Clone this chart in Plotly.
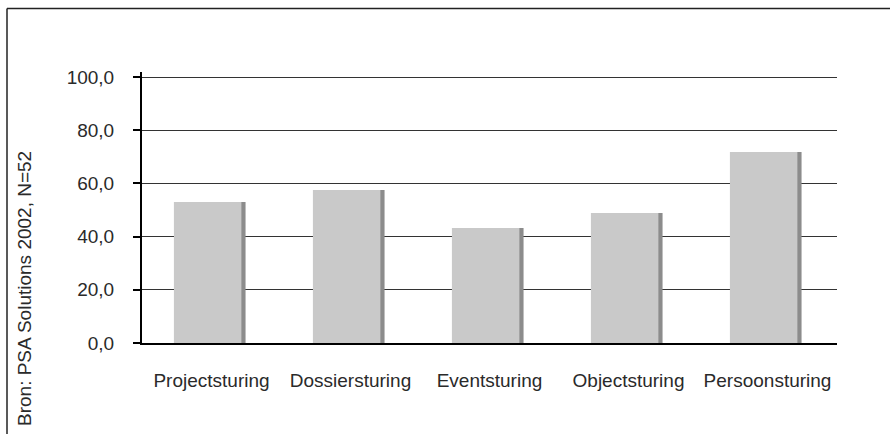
import plotly.graph_objects as go

categories = ["Projectsturing", "Dossiersturing", "Eventsturing", "Objectsturing", "Persoonsturing"]
values = [53.0, 57.5, 43.2, 48.9, 71.8]
y_ticks = [0, 20, 40, 60, 80, 100]
source_text = "Bron: PSA Solutions 2002, N=52"

FONT = "Liberation Sans"
FS = 19
TXT = "#2a2a2a"
W, H = 890, 434
ML, MR, MT, MB = 142, 53, 72, 91

fig = go.Figure()
# shadow (darker right edge)
fig.add_trace(go.Bar(x=categories, y=values, width=0.515, offset=-0.27,
                     marker=dict(color="#8c8c8c", line=dict(width=0)),
                     hoverinfo="skip", showlegend=False))
# face
fig.add_trace(go.Bar(x=categories, y=values, width=0.485, offset=-0.27,
                     marker=dict(color="#c9c9c9", line=dict(width=0)),
                     showlegend=False))

fig.update_layout(
    width=W, height=H,
    margin=dict(l=ML, r=MR, t=MT, b=MB),
    paper_bgcolor="white", plot_bgcolor="white",
    barmode="overlay",
    separators=",.",
    font=dict(family=FONT, size=FS, color=TXT),
    showlegend=False,
)
fig.update_xaxes(
    showline=True, linecolor="black", linewidth=2,
    showgrid=False, ticks="", ticklabelstandoff=19,
    tickfont=dict(family=FONT, size=FS, color=TXT),
)
fig.update_yaxes(
    range=[0, 101.9], tickvals=y_ticks, tickformat=".1f",
    showline=True, linecolor="black", linewidth=2,
    showgrid=True, gridcolor="#333333", gridwidth=1,
    ticks="outside", ticklen=7, tickcolor="black", tickwidth=1.5,
    ticklabelstandoff=15,
    tickfont=dict(family=FONT, size=FS, color=TXT),
    zeroline=False,
)

# frame lines (top and left)
fig.add_shape(type="line", xref="paper", yref="paper",
              x0=(7 - ML) / (W - ML - MR), x1=(W - ML) / (W - ML - MR),
              y0=1 + (MT - 8.5) / (H - MT - MB), y1=1 + (MT - 8.5) / (H - MT - MB),
              line=dict(color="#222222", width=1.5))
fig.add_shape(type="line", xref="paper", yref="paper",
              x0=(7 - ML) / (W - ML - MR), x1=(7 - ML) / (W - ML - MR),
              y0=-(MB) / (H - MT - MB), y1=1 + (MT - 8.5) / (H - MT - MB),
              line=dict(color="#222222", width=1.5))

fig.add_annotation(text=source_text, textangle=-90, showarrow=False,
                   xref="paper", yref="paper",
                   x=(24 - ML) / (W - ML - MR),
                   y=1 - (289 - MT) / (H - MT - MB),
                   xanchor="center", yanchor="middle",
                   font=dict(family=FONT, size=FS, color=TXT))

fig.write_html("out.html")
